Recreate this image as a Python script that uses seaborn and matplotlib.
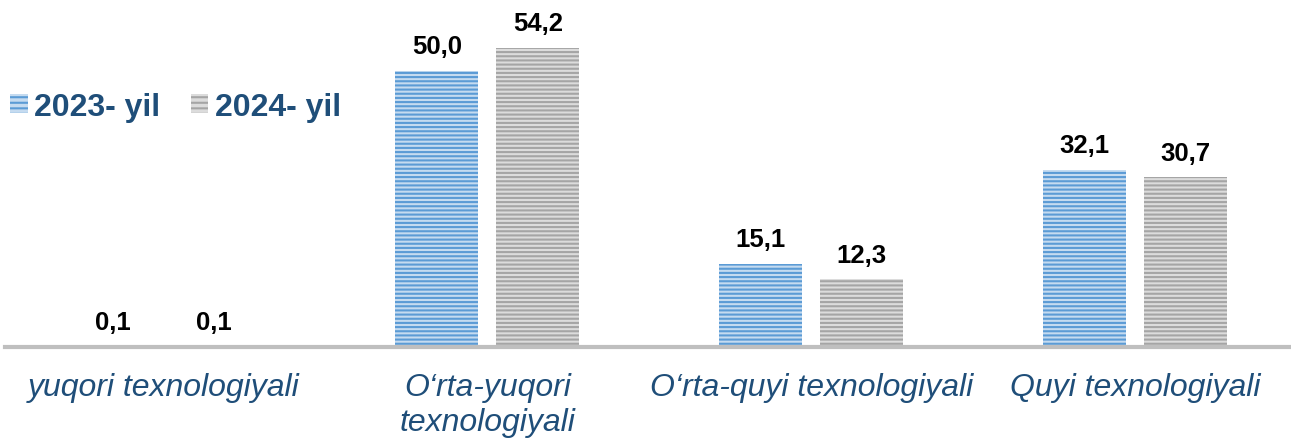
import pandas as pd
import matplotlib.pyplot as plt
import seaborn as sns
from matplotlib.patches import Patch

# Chart data
categories = ["yuqori texnologiyali", "O‘rta-yuqori\ntexnologiyali",
              "O‘rta-quyi texnologiyali", "Quyi texnologiyali"]
years = ["2023- yil", "2024- yil"]
values_2023 = [0.1, 50.0, 15.1, 32.1]
values_2024 = [0.1, 54.2, 12.3, 30.7]
value_labels_2023 = ["0,1", "50,0", "15,1", "32,1"]
value_labels_2024 = ["0,1", "54,2", "12,3", "30,7"]

df = pd.DataFrame({
    "category": categories * 2,
    "year": [years[0]] * 4 + [years[1]] * 4,
    "value": values_2023 + values_2024,
})

sns.set_style("white")
plt.rcParams["font.family"] = ["Liberation Sans", "DejaVu Sans"]
plt.rcParams["hatch.linewidth"] = 1.5

face_colors = ["#C5DBF0", "#DCDCDC"]
stripe_colors = ["#5B9BD5", "#A5A5A5"]
text_blue = "#1F4E79"

fig = plt.figure(figsize=(12.91, 4.39), dpi=100)
ax = fig.add_axes([0.004, 0.207, 0.996, 0.793])

sns.barplot(data=df, x="category", y="value", hue="year", order=categories,
            hue_order=years, width=0.624, gap=0.18, ax=ax, legend=False)


def stripe(patch, i):
    patch.set_facecolor(face_colors[i])
    patch.set_edgecolor(stripe_colors[i])
    patch.set_linewidth(0)
    patch.set_hatch("----")
    if hasattr(patch, "set_hatchcolor"):
        patch.set_hatchcolor(stripe_colors[i])


label_sets = [value_labels_2023, value_labels_2024]
for i, cont in enumerate(ax.containers):
    for bar, lab in zip(cont, label_sets[i]):
        stripe(bar, i)
        ax.annotate(lab, (bar.get_x() + bar.get_width() / 2, bar.get_height()),
                    xytext=(0, 9), textcoords="offset points",
                    ha="center", va="bottom", fontsize=18.5, fontweight="bold",
                    color="black")

ax.set_xlim(-0.488, 3.481)
ax.set_ylim(0, 63)
ax.set_xlabel("")
ax.set_ylabel("")
ax.set_yticks([])
ax.tick_params(axis="x", length=0, pad=18)
for lab in ax.get_xticklabels():
    lab.set_fontsize(23)
    lab.set_fontstyle("italic")
    lab.set_color(text_blue)
    lab.set_linespacing(1.2)

for side in ["top", "right", "left"]:
    ax.spines[side].set_visible(False)
ax.spines["bottom"].set_color("#BFBFBF")
ax.spines["bottom"].set_linewidth(3)

handles = []
for i in range(2):
    h = Patch(facecolor=face_colors[i], edgecolor=stripe_colors[i],
              linewidth=0, hatch="---", label=years[i])
    handles.append(h)
leg = fig.legend(handles=handles, loc="center left", bbox_to_anchor=(0.008, 0.755),
                 ncol=2, frameon=False, handlelength=0.55, handleheight=0.55,
                 handletextpad=0.2, columnspacing=0.95, borderpad=0,
                 borderaxespad=0, prop={"size": 23, "weight": "bold"})
for t in leg.get_texts():
    t.set_color(text_blue)

fig.savefig("out.png", dpi=100)
